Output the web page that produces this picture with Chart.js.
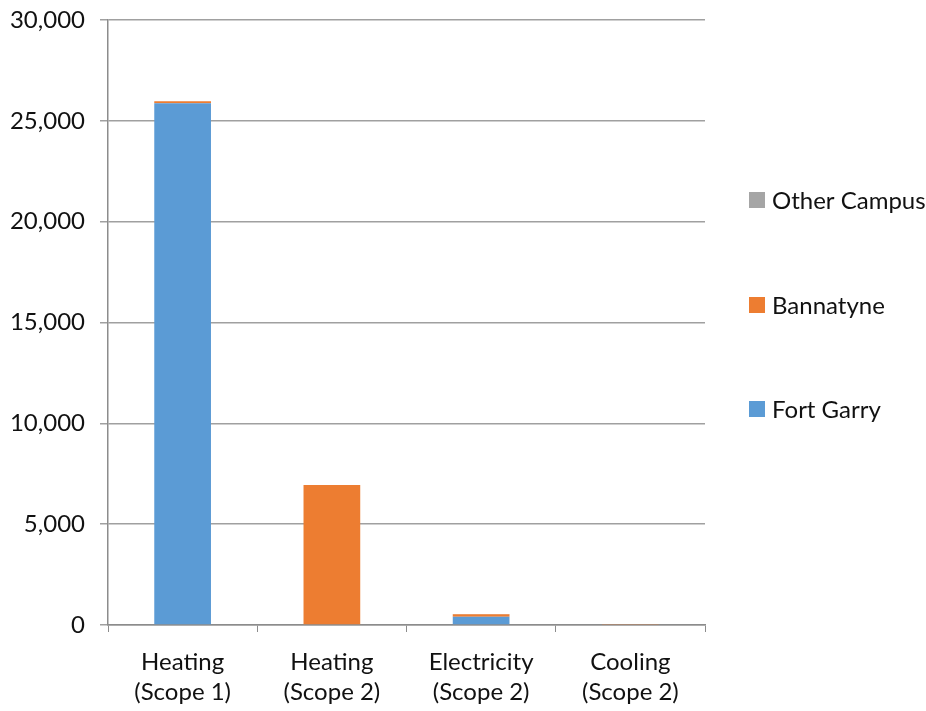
<!DOCTYPE html>
<html>
<head>
<meta charset="utf-8">
<script src="https://cdn.jsdelivr.net/npm/chart.js@4.4.0/dist/chart.umd.min.js"></script>
<style>
html,body{margin:0;padding:0;background:#fff;}
#wrap{width:926px;height:711px;position:relative;}
</style>
</head>
<body>
<div id="wrap"><canvas id="c" width="926" height="711"></canvas></div>
<script>
const categories = [["Heating","(Scope 1)"],["Heating","(Scope 2)"],["Electricity","(Scope 2)"],["Cooling","(Scope 2)"]];
const fortGarry = [25870, 0, 410, 0];
const bannatyne = [100, 6940, 120, 50];
const otherCampus = [0, 0, 20, 0];
const yTicks = [0, 5000, 10000, 15000, 20000, 25000, 30000];

const FONT = "Lato";
const legendPlugin = {
  id: 'sideLegend',
  afterDraw(chart) {
    const ctx = chart.ctx;
    const items = [
      {ds: 2, y: 200},
      {ds: 1, y: 305},
      {ds: 0, y: 409}
    ];
    ctx.save();
    ctx.font = "24px " + FONT;
    ctx.textBaseline = 'middle';
    ctx.textAlign = 'left';
    items.forEach(it => {
      const d = chart.data.datasets[it.ds];
      ctx.fillStyle = d.backgroundColor;
      ctx.fillRect(749, it.y - 8, 16, 16);
      ctx.fillStyle = '#111';
      ctx.fillText(d.label, 772, it.y + 1);
    });
    ctx.restore();
  }
};

new Chart(document.getElementById('c'), {
  type: 'bar',
  data: {
    labels: categories,
    datasets: [
      {label: 'Fort Garry', data: fortGarry, backgroundColor: '#5B9BD5'},
      {label: 'Bannatyne', data: bannatyne, backgroundColor: '#ED7D31'},
      {label: 'Other Campus', data: otherCampus, backgroundColor: '#A5A5A5'}
    ]
  },
  options: {
    responsive: false,
    animation: false,
    devicePixelRatio: 1,
    layout: {padding: {left: 0, right: 221, top: 20, bottom: 0}},
    plugins: {legend: {display: false}, tooltip: {enabled: false}},
    datasets: {bar: {categoryPercentage: 1, barPercentage: 0.38, borderWidth: 0}},
    scales: {
      x: {
        stacked: true,
        grid: {drawOnChartArea: false, drawTicks: true, tickLength: 7, color: '#8c8c8c', offset: true},
        border: {display: true, color: '#8c8c8c', width: 1.5},
        ticks: {color: '#111', font: {family: FONT, size: 24, lineHeight: 1.25}, padding: 15, maxRotation: 0},
        afterFit(s) { s.height = 86; }
      },
      y: {
        stacked: true,
        min: 0, max: 30000,
        afterBuildTicks(s) { s.ticks = yTicks.map(v => ({value: v})); },
        grid: {color: '#a0a0a0', lineWidth: 1.5, drawTicks: true, tickLength: 8},
        border: {display: true, color: '#8c8c8c', width: 1.5},
        ticks: {color: '#111', font: {family: FONT, size: 24}, padding: 15,
          callback: v => v.toLocaleString('en-US')},
        afterFit(s) { s.width = 108; s.paddingTop = 0; s.paddingBottom = 0; }
      }
    }
  },
  plugins: [legendPlugin]
});
</script>
</body>
</html>
